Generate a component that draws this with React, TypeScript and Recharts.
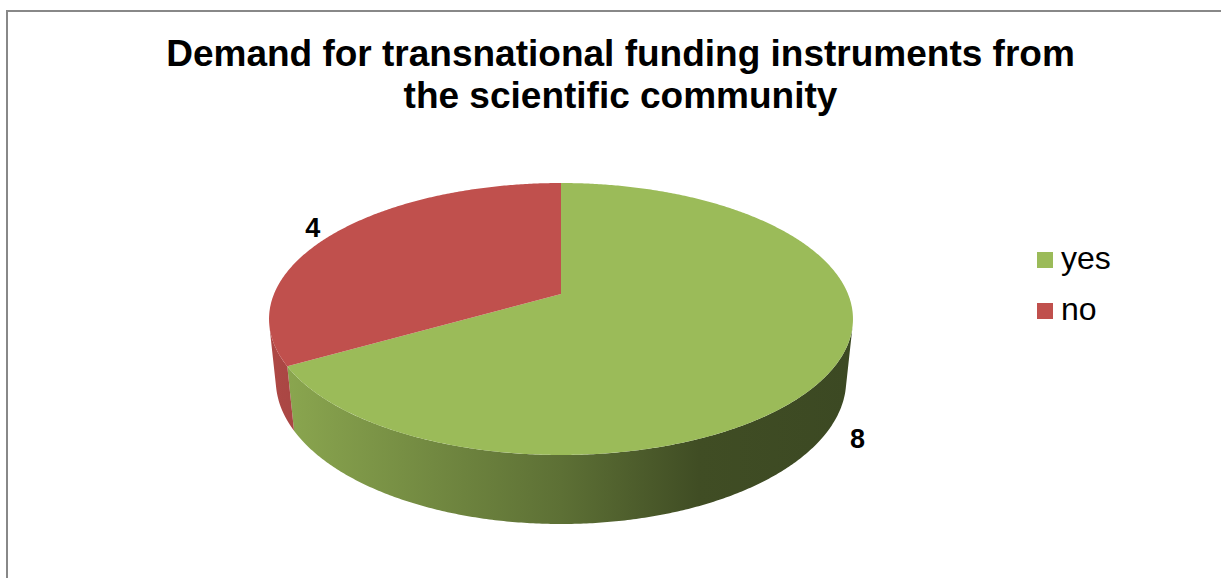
import React from 'react';
import { PieChart, Pie, Cell, Legend } from 'recharts';

// ---- data ----
const categories = ['yes', 'no'];
const values = [8, 4];
const titleLines = ['Demand for transnational funding instruments from', 'the scientific community'];

// ---- styles ----
const sliceColors = ['#9BBB59', '#C0504D'];
const FONT = '"Liberation Sans", Arial, "DejaVu Sans", sans-serif';

const data = categories.map((name, i) => ({ name, value: values[i] }));

// ---- 3D perspective projection of the pie disc ----
const DIST = 4.837; // camera distance in units of radius
const SIN_A = 0.4578;
const COS_A = 0.889;
const THICK = 0.2415; // disc thickness in units of radius
const SIDE_LIMIT = -1 / (DIST * COS_A); // sin(phi) below which the side wall faces the viewer

const RAD = Math.PI / 180;

function project(cx: number, cy: number, S: number, phiDeg: number, k: number, w: number) {
  const u = k * Math.cos(phiDeg * RAD);
  const v = k * Math.sin(phiDeg * RAD);
  const depth = DIST + v * COS_A - w * SIN_A;
  const F = S * DIST;
  const X = (F * u) / depth;
  const Y = (-F * (v * SIN_A + w * COS_A)) / depth;
  return [cx + X, cy + Y];
}

function arcPoints(cx: number, cy: number, S: number, a0: number, a1: number, w: number) {
  const pts: number[][] = [];
  const n = Math.max(2, Math.ceil(Math.abs(a1 - a0) / 0.5));
  for (let i = 0; i <= n; i++) {
    const a = a0 + ((a1 - a0) * i) / n;
    pts.push(project(cx, cy, S, a, 1, w));
  }
  return pts;
}

function shade(hex: string, f: number) {
  const n = parseInt(hex.slice(1), 16);
  const r = Math.round(((n >> 16) & 255) * f);
  const g = Math.round(((n >> 8) & 255) * f);
  const b = Math.round((n & 255) * f);
  return `rgb(${r},${g},${b})`;
}

const Sector3D = (props: any) => {
  const { cx, cy, outerRadius, startAngle, endAngle, fill } = props;
  const S = outerRadius;
  const a0 = Math.min(startAngle, endAngle);
  const a1 = Math.max(startAngle, endAngle);
  const limitDeg = Math.asin(-SIDE_LIMIT) / RAD; // ~13.4
  const sideLo = 180 + limitDeg;
  const sideHi = 360 - limitDeg;
  const sides: string[] = [];
  for (const off of [-720, -360, 0, 360]) {
    const lo = Math.max(a0, sideLo + off);
    const hi = Math.min(a1, sideHi + off);
    if (lo < hi) {
      const top = arcPoints(cx, cy, S, lo, hi, 0);
      const bot = arcPoints(cx, cy, S, hi, lo, -THICK);
      const all = top.concat(bot);
      sides.push('M' + all.map((p) => `${p[0].toFixed(2)},${p[1].toFixed(2)}`).join('L') + 'Z');
    }
  }
  const topPts = arcPoints(cx, cy, S, startAngle, endAngle, 0);
  const c = project(cx, cy, S, 0, 0, 0);
  const topPath =
    `M${c[0].toFixed(2)},${c[1].toFixed(2)}L` +
    topPts.map((p) => `${p[0].toFixed(2)},${p[1].toFixed(2)}`).join('L') +
    'Z';
  const gid = 'side-' + String(fill).replace('#', '');
  return (
    <g>
      <defs>
        <linearGradient id={gid} gradientUnits="userSpaceOnUse" x1={cx - S} y1={0} x2={cx + S} y2={0}>
          <stop offset="0" stopColor={shade(fill, 0.9)} />
          <stop offset="0.5" stopColor={shade(fill, 0.6)} />
          <stop offset="0.74" stopColor={shade(fill, 0.41)} />
          <stop offset="1" stopColor={shade(fill, 0.39)} />
        </linearGradient>
      </defs>
      {sides.map((d, i) => (
        <path key={i} d={d} fill={`url(#${gid})`} stroke="none" />
      ))}
      <path d={topPath} fill={fill} stroke="none" />
    </g>
  );
};

const renderLabel = (props: any) => {
  const { cx, cy, outerRadius, midAngle, value } = props;
  const below = Math.sin(midAngle * RAD) < 0;
  const p = project(cx, cy, outerRadius, midAngle, 1.1, below ? -THICK : 0);
  return (
    <text
      x={p[0]}
      y={p[1]}
      textAnchor="middle"
      dominantBaseline="central"
      fontFamily={FONT}
      fontWeight="bold"
      fontSize={27}
      fill="#000"
    >
      {value}
    </text>
  );
};

const renderLegend = () => (
  <svg width={190} height={110} style={{ overflow: 'visible' }}>
    {categories.map((name, i) => (
      <g key={name}>
        <rect x={7} y={12 + i * 51} width={16} height={16} fill={sliceColors[i]} />
        <text x={31} y={29 + i * 51} fontFamily={FONT} fontSize={32} fill="#000">
          {name}
        </text>
      </g>
    ))}
  </svg>
);

export default function App() {
  return (
    <div style={{ position: 'absolute', left: 0, top: 0, width: 1221, height: 578, overflow: 'hidden', background: '#fff' }}>
      <div
        style={{
          position: 'absolute',
          left: 6,
          top: 10,
          width: 1240,
          height: 620,
          border: '2px solid #888',
          boxSizing: 'border-box',
        }}
      />
      <div style={{ position: 'absolute', left: 0, top: 0 }}>
        <PieChart width={1221} height={578} margin={{ top: 0, right: 0, bottom: 0, left: 0 }}>
          <Pie
            data={data}
            dataKey="value"
            nameKey="name"
            cx={561}
            cy={294}
            outerRadius={287}
            startAngle={90}
            endAngle={-270}
            isAnimationActive={false}
            shape={Sector3D}
            label={renderLabel}
            labelLine={false}
            stroke="none"
          >
            {data.map((d, i) => (
              <Cell key={d.name} fill={sliceColors[i]} />
            ))}
          </Pie>
          <Legend
            layout="vertical"
            align="right"
            verticalAlign="middle"
            content={renderLegend}
            wrapperStyle={{ position: 'absolute', left: 1030, top: 240, width: 190, height: 110 }}
          />
        </PieChart>
      </div>
      <svg width={1221} height={578} style={{ position: 'absolute', left: 0, top: 0, pointerEvents: 'none' }}>
        {titleLines.map((t, i) => (
          <text
            key={i}
            x={620.5}
            y={66 + i * 42}
            textAnchor="middle"
            fontFamily={FONT}
            fontWeight="bold"
            fontSize={37}
            fill="#000"
          >
            {t}
          </text>
        ))}
      </svg>
    </div>
  );
}
